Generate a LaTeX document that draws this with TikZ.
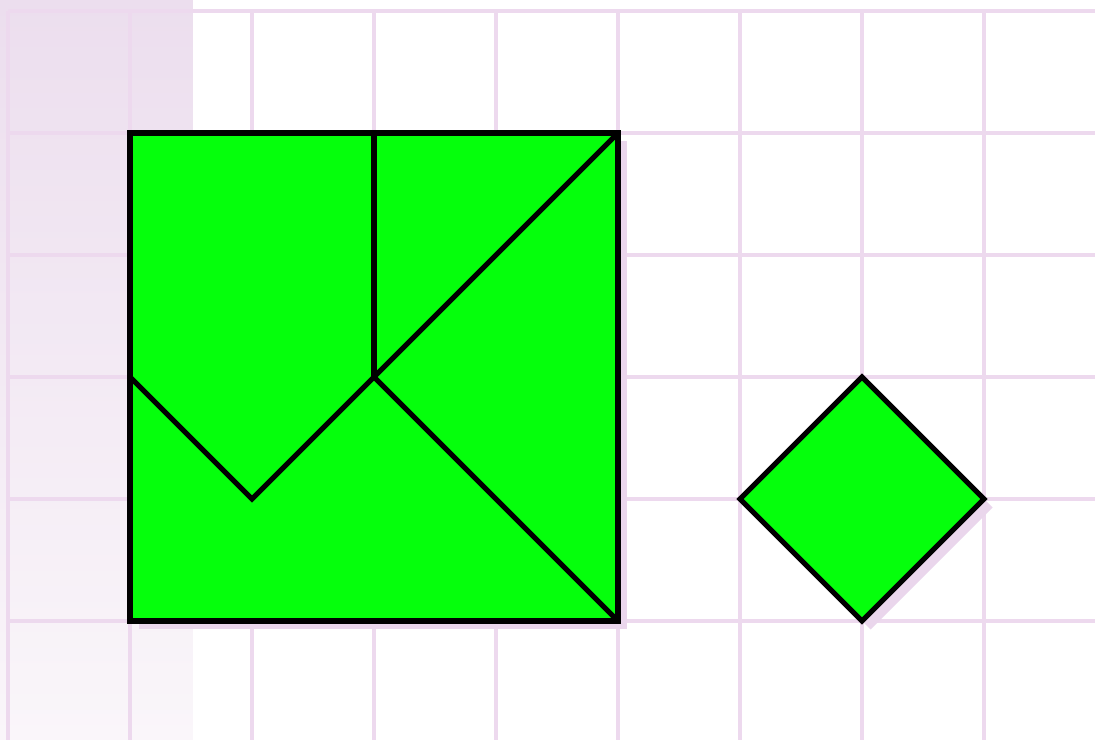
\documentclass[tikz,border=0pt]{standalone}
\usepackage{xcolor}
\usepackage{tikz}
\usetikzlibrary{calc}

\definecolor{gridlila}{RGB}{237,217,238}
\definecolor{bandtop}{RGB}{236,222,238}
\definecolor{bandbot}{RGB}{250,246,250}
\definecolor{piece}{RGB}{5,255,12}
\definecolor{shade}{RGB}{234,214,236}

\begin{document}
\begin{tikzpicture}[
    x=1cm, y=1cm,
    gridline/.style={draw=gridlila, line width=1pt},
    tile/.style={fill=piece, draw=black, line width=1.2pt, line join=miter},
    cut/.style={draw=black, line width=1.2pt, line cap=round},
    shadow/.style={fill=shade, transform canvas={xshift=0.07cm, yshift=-0.07cm}}
]
\useasboundingbox (-0.066,-0.975) rectangle (8.91,5.09);
\fill[white] (-0.066,-0.975) rectangle (8.91,5.09);

% faded band on the left
\shade[top color=bandtop, bottom color=bandbot] (-0.066,-0.975) rectangle (1.516,5.09);

% grid
\foreach \i in {0,...,8}
  \draw[gridline] (\i,5) -- (\i,-0.975);
\foreach \j in {0,...,5}
  \draw[gridline] (0,\j) -- (8.91,\j);

% square made of pieces
\coordinate (bl) at (1,0);
\coordinate (br) at (5,0);
\coordinate (tr) at (5,4);
\coordinate (tl) at (1,4);
\coordinate (tm) at (3,4);
\coordinate (ml) at (1,2);
\coordinate (mid) at (3,2);
\coordinate (low) at (2,1);
\fill[shadow] (bl) rectangle (tr);
\draw[tile] (bl) rectangle (tr);
\draw[cut] (tm) -- (mid);
\draw[cut] (tr) -- (mid);
\draw[cut] (ml) -- (low) -- (mid) -- (br);

% the diamond
\coordinate (dl) at (6,1);
\coordinate (dt) at (7,2);
\coordinate (dr) at (8,1);
\coordinate (db) at (7,0);
\fill[shadow] (dl) -- (dt) -- (dr) -- (db) -- cycle;
\draw[tile] (dl) -- (dt) -- (dr) -- (db) -- cycle;
\end{tikzpicture}
\end{document}
